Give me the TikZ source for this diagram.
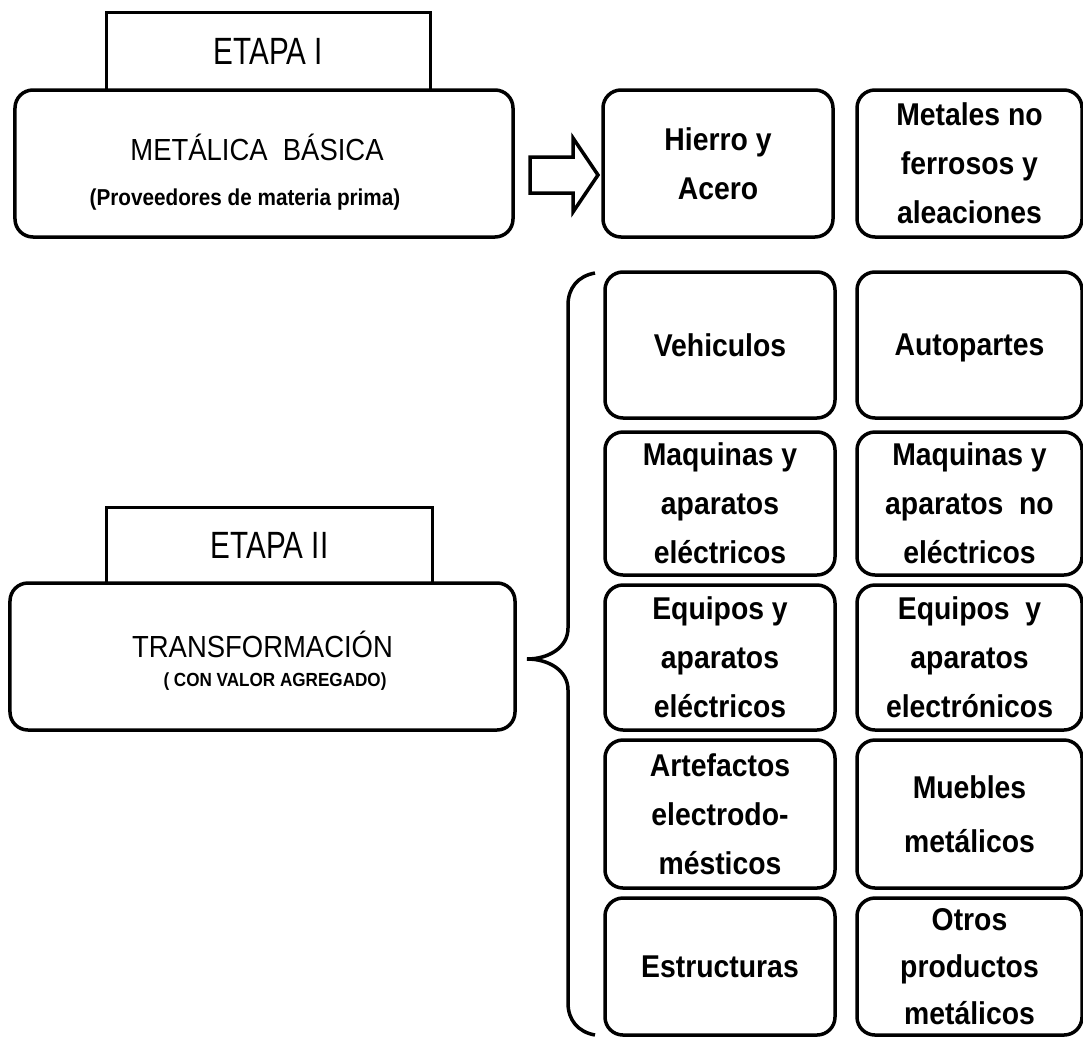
\documentclass[tikz,border=0pt]{standalone}
\usepackage{fontspec}
\setmainfont{Liberation Sans}
\newfontfamily\narrowfont[FakeStretch=0.78]{Liberation Sans}
\newfontfamily\condfont[FakeStretch=0.9]{Liberation Sans}

\usetikzlibrary{positioning}

\begin{document}
\begin{tikzpicture}[x=1bp, y=-1bp, node distance=10bp and 22bp,
    tab/.style = {draw, rectangle, line width=3bp, inner sep=0pt, outer sep=0pt, font=\narrowfont\fontsize{38bp}{44bp}\selectfont},
    stage/.style = {draw, rounded corners=18bp, line width=3.5bp, inner sep=0pt, outer sep=0pt},
    stagetitle/.style = {inner sep=0pt, font=\condfont\fontsize{30.5bp}{36bp}\selectfont},
    stagesub/.style = {inner sep=0pt, font=\condfont\bfseries\fontsize{#1}{30bp}\selectfont},
    item/.style = {draw, rounded corners=18bp, line width=3.5bp, inner sep=0pt, outer sep=0pt, minimum width=230bp, align=center, font=\condfont\bfseries\fontsize{31.5bp}{49bp}\selectfont},
    item2/.style = {item, minimum width=225bp},
    blockarrow/.style = {draw, line width=3.5bp, line join=miter},
    bracket/.style = {draw, line width=3.5bp}]
        \path[use as bounding box, fill=white] (0,0) rectangle (1083,1037);

        % etapa I
        \node[stage, minimum width=498bp, minimum height=147bp] (basica) at (264,163.5) {};
        \node[tab, minimum width=323bp, minimum height=78bp, above=0bp of basica, xshift=4.5bp] (etapa1) {ETAPA I};
        \node[stagetitle] (basicatitle) at (257,147) {METÁLICA\ \ BÁSICA};
        \node[stagesub=23bp] (basicasub) at (245,200) {(Proveedores de materia prima)};

        \coordinate (arrtail) at (530,175);
        \draw[blockarrow] (arrtail) ++(0,-18) -- ++(43,0) -- ++(0,-19) -- ++(25,37) -- ++(-25,37) -- ++(0,-19) -- ++(-43,0) -- cycle;

        \node[item, minimum height=147bp] (hierro) at (718,163.5) {Hierro y\\Acero};
        \node[item2, minimum height=147bp, right=24bp of hierro] (metales) {Metales no\\ferrosos y\\aleaciones};

        % etapa II
        \node[stage, minimum width=505bp, minimum height=147bp] (transf) at (262.5,656.5) {};
        \node[tab, minimum width=325bp, minimum height=76bp, above=0bp of transf, xshift=7bp] (etapa2) {ETAPA II};
        \node[stagetitle] (transftitle) at (262.5,644) {TRANSFORMACIÓN};
        \node[stagesub=19bp] (transfsub) at (275,682) {( CON VALOR AGREGADO)};

        \coordinate (bracetop) at (595,273);
        \coordinate (bracetip) at (527,659);
        \coordinate (bracebot) at (595,1035);
        \draw[bracket] (bracetop) .. controls (578,276) and (568,288) .. (568,305) -- (568,628) .. controls (568,648) and (548,659) .. (bracetip) .. controls (548,659) and (568,670) .. (568,690) -- (568,1003) .. controls (568,1020) and (578,1032) .. (bracebot);

        \node[item, minimum height=146bp] (vehiculos) at (720,345) {Vehiculos};
        \node[item2, minimum height=146bp, right=of vehiculos, text depth=0pt] (autopartes) {Autopartes};
        \node[item, minimum height=143bp, below=14bp of vehiculos] (maqelec) {Maquinas y\\aparatos\\eléctricos};
        \node[item2, minimum height=143bp, right=of maqelec] (maqnoelec) {Maquinas y\\aparatos\ \ no\\eléctricos};
        \node[item, minimum height=145bp, below=of maqelec] (equielec) {Equipos y\\aparatos\\eléctricos};
        \node[item2, minimum height=145bp, right=of equielec] (equielectron) {Equipos\ \ y\\aparatos\\electrónicos};
        \node[item, minimum height=148bp, below=of equielec] (artefactos) {Artefactos\\electrodo-\\mésticos};
        \node[item2, minimum height=148bp, right=of artefactos, font=\condfont\bfseries\fontsize{31.5bp}{54bp}\selectfont] (muebles) {Muebles\\metálicos};
        \node[item, minimum height=137bp, below=of artefactos] (estructuras) {Estructuras};
        \node[item2, minimum height=137bp, right=of estructuras, text depth=0pt, font=\condfont\bfseries\fontsize{31.5bp}{47bp}\selectfont] (otros) {Otros\\productos\\metálicos};
    \end{tikzpicture}
\end{document}
